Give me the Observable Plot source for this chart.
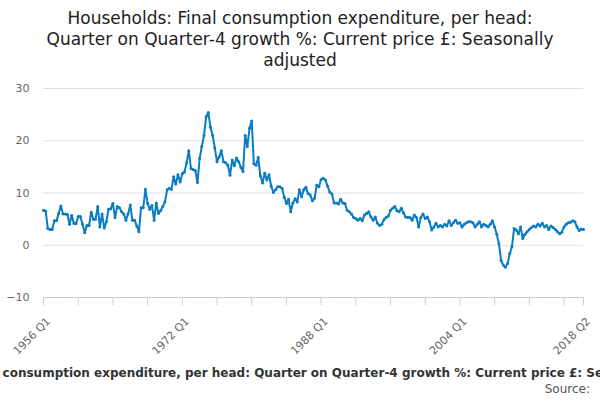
<!DOCTYPE html>
<html><head><meta charset="utf-8">
<script src="https://cdn.jsdelivr.net/npm/d3@7"></script>
<script src="https://cdn.jsdelivr.net/npm/@observablehq/plot@0.6"></script>
<style>
body{margin:0;width:600px;height:400px;overflow:hidden;font-family:"DejaVu Sans",sans-serif;background:#fff}
#title{text-align:center;font-size:17px;line-height:21px;color:#222;padding-top:8px;height:70px}
#chart svg{overflow:visible}
#cap{display:flex;justify-content:center;overflow:hidden;white-space:nowrap;font-size:12px;font-weight:bold;color:#333;margin-top:14px}
#src{text-align:right;font-size:12px;color:#555;padding-right:10px;margin-top:2px}
</style></head><body>
<div id="title">Households: Final consumption expenditure, per head:<br>Quarter on Quarter-4 growth %: Current price £: Seasonally<br>adjusted</div>
<div id="chart"></div>
<div id="cap"><span>Households: Final consumption expenditure, per head: Quarter on Quarter-4 growth %: Current price £: Seasonally adjusted</span></div>
<div id="src">Source:</div>
<script>
const startYear = 1956;
const values = [
6.7,6.5,3.2,3.0,3.0,4.7,4.7,6.1,7.5,6.0,
6.0,5.9,4.0,5.7,4.2,4.1,5.5,5.5,4.0,2.4,
3.8,3.8,6.3,5.0,5.0,7.4,3.5,6.0,3.3,4.5,
6.9,7.0,8.0,5.3,7.4,7.2,6.4,6.0,4.8,6.0,
7.7,4.8,4.8,3.7,2.6,7.2,7.2,10.7,8.0,6.9,
7.6,4.8,8.1,6.1,6.6,7.4,8.3,10.6,10.9,10.7,
13.1,11.7,13.5,12.1,13.7,14.0,15.8,18.1,14.7,
14.5,14.3,12.0,16.6,18.9,21.0,24.6,25.4,22.6,21.0,
18.6,16.0,16.9,18.1,16.0,15.8,15.3,13.4,16.3,15.2,
16.7,16.0,14.9,14.1,21.0,18.9,22.4,23.8,15.6,15.3,
16.8,13.3,11.9,13.8,12.5,13.5,11.3,10.1,10.6,
11.2,11.2,10.9,9.2,8.0,8.8,6.4,8.1,8.9,8.3,
10.6,9.3,10.6,11.1,9.9,
9.6,8.5,9.0,11.5,11.2,12.6,12.8,12.5,11.3,10.2,
9.8,8.1,8.1,7.9,8.8,8.1,8.0,6.7,6.4,
6.0,5.3,5.1,4.8,5.1,4.7,5.8,6.1,6.4,
5.4,4.8,5.4,4.2,3.8,4.0,4.9,5.3,5.6,6.7,
7.1,7.4,6.6,6.4,7.1,6.2,5.4,5.3,
5.3,4.8,5.8,5.3,3.5,5.3,6.0,5.1,5.4,4.5,
2.9,3.5,4.2,3.5,3.8,3.5,4.0,3.7,4.7,3.8,
4.3,4.8,4.2,4.3,3.5,4.0,4.3,4.5,
4.5,4.3,3.5,4.0,4.5,3.5,4.0,3.8,3.5,
4.0,4.7,3.5,2.1,0.3,-2.9,-3.8,-4.2,-3.5,-1.6,
-0.3,3.2,2.9,2.2,3.5,1.3,2.1,2.6,3.0,3.4,
3.7,3.5,4.0,3.7,4.2,3.5,3.8,3.0,3.7,3.4,
3.0,2.6,2.2,2.5,3.5,4.0,4.3,4.4,4.7,
4.5,3.5,2.8,3.1,3.0
];
const tickPositions = [1956,1972,1988,2004,2018.25];
const tickLabels = ["1956 Q1","1972 Q1","1988 Q1","2004 Q1","2018 Q2"];
const minorTicks = [1956,1960,1964,1968,1972,1976,1980,1984,1988,1992,1996,2000,2004,2008,2012,2016,2018.25];
const yTicks = [-10,0,10,20,30];
const data = values.map((v,i)=>({t:startYear+i/4, v}));
const plot = Plot.plot({
  width:600, height:274, marginTop:10, marginLeft:43, marginRight:17, marginBottom:55,
  style:{fontFamily:"DejaVu Sans, sans-serif", fontSize:"11px", color:"#666", overflow:"visible"},
  x:{domain:[1956,2018.25], label:null},
  y:{domain:[-10,30], label:null},
  marks:[
    Plot.gridY(yTicks,{stroke:"#e0e0e0", strokeOpacity:1}),
    Plot.ruleY([-10],{stroke:"#c0cfe0"}),
    Plot.axisX(minorTicks,{tickSize:8, text:null, stroke:"#c0cfe0", strokeOpacity:1}),
    Plot.axisY(yTicks,{tickSize:0, tickPadding:14, fill:"#666", fontSize:11}),
    Plot.axisX(tickPositions,{tickSize:0, tickFormat:(d,i)=>tickLabels[i], textAnchor:"end", rotate:-45, dy:10, dx:2, fill:"#666", fontSize:11}),
    Plot.line(data,{x:"t", y:"v", stroke:"#0a7cc1", strokeWidth:2}),
    Plot.dot(data,{x:"t", y:"v", fill:"#0a7cc1", r:1.5})
  ]
});
document.getElementById("chart").appendChild(plot);
</script></body></html>
